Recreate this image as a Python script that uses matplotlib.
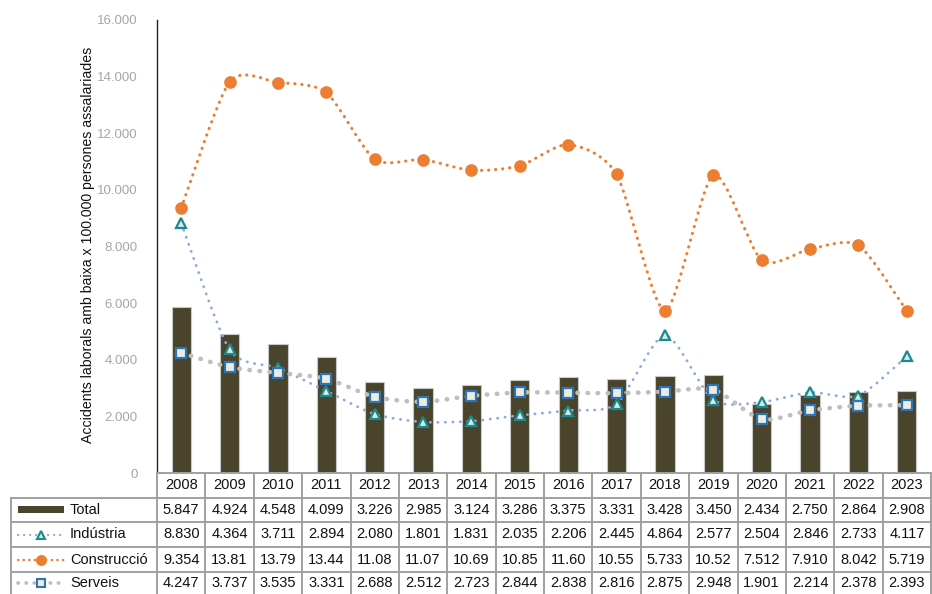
import matplotlib
matplotlib.use("Agg")
import matplotlib.pyplot as plt
import numpy as np
from matplotlib.path import Path
from matplotlib.patches import PathPatch, Rectangle
from matplotlib.lines import Line2D

years = ["2008", "2009", "2010", "2011", "2012", "2013", "2014", "2015",
         "2016", "2017", "2018", "2019", "2020", "2021", "2022", "2023"]
total = [5847, 4924, 4548, 4099, 3226, 2985, 3124, 3286, 3375, 3331, 3428, 3450, 2434, 2750, 2864, 2908]
industria = [8830, 4364, 3711, 2894, 2080, 1801, 1831, 2035, 2206, 2445, 4864, 2577, 2504, 2846, 2733, 4117]
construccio = [9354, 13810, 13790, 13440, 11080, 11070, 10690, 10850, 11600, 10550, 5733, 10520, 7512, 7910, 8042, 5719]
serveis = [4247, 3737, 3535, 3331, 2688, 2512, 2723, 2844, 2838, 2816, 2875, 2948, 1901, 2214, 2378, 2393]

total_lbl = ["5.847", "4.924", "4.548", "4.099", "3.226", "2.985", "3.124", "3.286", "3.375", "3.331", "3.428", "3.450", "2.434", "2.750", "2.864", "2.908"]
industria_lbl = ["8.830", "4.364", "3.711", "2.894", "2.080", "1.801", "1.831", "2.035", "2.206", "2.445", "4.864", "2.577", "2.504", "2.846", "2.733", "4.117"]
construccio_lbl = ["9.354", "13.81", "13.79", "13.44", "11.08", "11.07", "10.69", "10.85", "11.60", "10.55", "5.733", "10.52", "7.512", "7.910", "8.042", "5.719"]
serveis_lbl = ["4.247", "3.737", "3.535", "3.331", "2.688", "2.512", "2.723", "2.844", "2.838", "2.816", "2.875", "2.948", "1.901", "2.214", "2.378", "2.393"]
yticks = [0, 2000, 4000, 6000, 8000, 10000, 12000, 14000, 16000]
ytick_lbl = ["0", "2.000", "4.000", "6.000", "8.000", "10.000", "12.000", "14.000", "16.000"]

plt.rcParams['font.family'] = ['Liberation Sans', 'DejaVu Sans']

W, H = 932, 594
fig = plt.figure(figsize=(W / 100, H / 100), dpi=100)
ax_l, ax_r, ax_t, ax_b = 157, 931, 20, 473
ax = fig.add_axes([ax_l / W, 1 - ax_b / H, (ax_r - ax_l) / W, (ax_b - ax_t) / H])

x = np.arange(len(years))
bar_c = '#4a442d'
ax.bar(x, total, width=0.4, color=bar_c, edgecolor='#c8c8c8', linewidth=0.8, zorder=2)


def smooth_path(xs, ys, k=8.0):
    pts = np.column_stack([xs, ys]).astype(float)
    n = len(pts)
    verts = [pts[0]]
    codes = [Path.MOVETO]
    for i in range(n - 1):
        p0 = pts[i - 1] if i > 0 else pts[i]
        p1 = pts[i]
        p2 = pts[i + 1]
        p3 = pts[i + 2] if i + 2 < n else pts[i + 1]
        c1 = p1 + (p2 - p0) / k
        c2 = p2 - (p3 - p1) / k
        verts += [c1, c2, p2]
        codes += [Path.CURVE4] * 3
    return Path(verts, codes)


series = [
    (industria, '#8eaadb', 2.0, (0, (0.1, 2.6)), '^', '#1a8a8a', '#d6e9f0', 7.5),
    (construccio, '#ed7d31', 2.2, (0, (0.1, 2.2)), 'o', '#ed7d31', '#ed7d31', 7.5),
    (serveis, '#bfbfbf', 3.3, (0, (0.1, 2.1)), 's', '#2e75b6', '#eeece1', 7.2),
]
for i, (vals, lc, lw, ls, mk, mec, mfc, ms) in enumerate(series):
    patch = PathPatch(smooth_path(x, vals), facecolor='none', edgecolor=lc,
                      linewidth=lw, linestyle=ls, capstyle='round', zorder=3 + i)
    ax.add_patch(patch)
    ax.plot(x, vals, linestyle='none', marker=mk, markersize=ms, markeredgecolor=mec,
            markerfacecolor=mfc, markeredgewidth=1.6, zorder=3.5 + i)

ax.set_xlim(-0.5, len(years) - 0.5)
ax.set_ylim(0, 16000)
ax.set_yticks(yticks)
ax.set_yticklabels(ytick_lbl, color='#a6a6a6', fontsize=9.5)
ax.tick_params(axis='y', length=0, pad=14)
ax.set_xticks([])
for s in ['top', 'right', 'bottom']:
    ax.spines[s].set_visible(False)
ax.spines['left'].set_color('#222222')
ax.spines['left'].set_linewidth(1.0)
fig.text(88 / W, 1 - 245 / H, "Accidents laborals amb baixa x 100.000 persones assalariades",
         rotation=90, ha='center', va='center', fontsize=10.2, color='#111111')

# ---- data table ----
fig.canvas.draw()
to_fig = lambda xd: fig.transFigure.inverted().transform(ax.transData.transform((xd, 0)))[0]
col_edges = [to_fig(v - 0.5) for v in range(len(years) + 1)]
col_cent = [to_fig(v) for v in range(len(years))]
row_y = [473, 497.5, 522, 547, 572, 597]
fy = lambda py: 1 - py / H
left_x = 11 / W
lc_tab = '#a0a0a0'
tlw = 1.4

def fline(xs, ys):
    fig.add_artist(Line2D(xs, ys, transform=fig.transFigure, color=lc_tab, linewidth=tlw, clip_on=False))

fline([col_edges[0], col_edges[-1]], [fy(row_y[0])] * 2)
for ry in row_y[1:5]:
    fline([left_x, col_edges[-1]], [fy(ry)] * 2)
for ce in col_edges:
    fline([ce, ce], [fy(row_y[0]), fy(row_y[-1])])
fline([left_x, left_x], [fy(row_y[1]), fy(row_y[-1])])

tfs = 10.5
for j, yr in enumerate(years):
    fig.text(col_cent[j], fy((row_y[0] + row_y[1]) / 2), yr, ha='center', va='center', fontsize=tfs, color='#111111')
rows = [("Total", total_lbl), ("Indústria", industria_lbl), ("Construcció", construccio_lbl), ("Serveis", serveis_lbl)]
for r, (name, lbls) in enumerate(rows):
    yc = fy((row_y[r + 1] + row_y[r + 2]) / 2) if r < 3 else fy((row_y[4] + 594) / 2)
    for j, t in enumerate(lbls):
        fig.text(col_cent[j], yc, t, ha='center', va='center', fontsize=tfs, color='#111111')
    fig.text(70 / W, yc, name, ha='left', va='center', fontsize=tfs, color='#111111')

# legend keys
yk = [fy((row_y[k] + row_y[k + 1]) / 2) for k in range(1, 4)] + [fy((row_y[4] + 594) / 2)]
fig.add_artist(Rectangle((18 / W, yk[0] - 3.5 / H), 46 / W, 7 / H, transform=fig.transFigure,
                         facecolor=bar_c, edgecolor='none'))
for k, (vals, lc, lw, ls, mk, mec, mfc, ms) in enumerate(series):
    fig.add_artist(Line2D([18 / W, 64 / W], [yk[k + 1]] * 2, transform=fig.transFigure, color=lc,
                          linewidth=lw * 0.8, linestyle=ls, dash_capstyle='round'))
    fig.add_artist(Line2D([41 / W], [yk[k + 1]], transform=fig.transFigure, linestyle='none', marker=mk,
                          markersize=ms * 0.85, markeredgecolor=mec, markerfacecolor=mfc, markeredgewidth=1.5))

fig.savefig("out.png", dpi=100)
